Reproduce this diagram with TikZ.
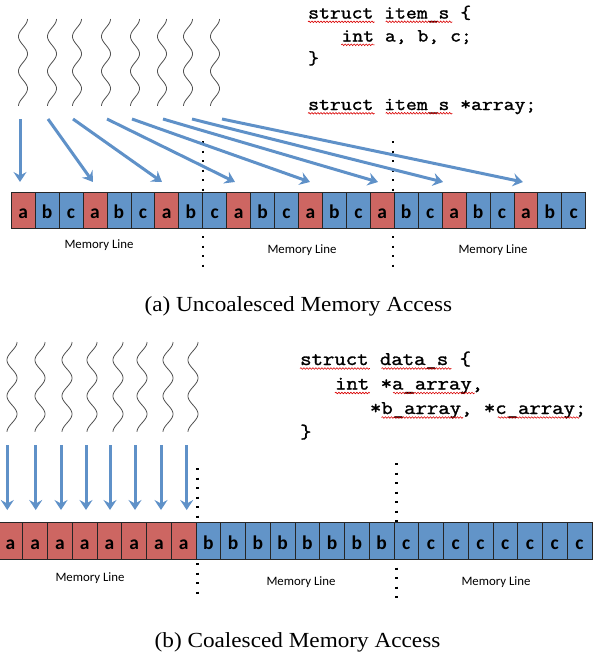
\documentclass[tikz,border=0pt]{standalone}
\usepackage{fontspec}
\setmainfont{Liberation Serif}
\newfontfamily\calfont{Carlito}
\newfontfamily\codefont{Latin Modern Mono}[FakeBold=1.5, FakeStretch=1.14]
\usetikzlibrary{arrows.meta,decorations.pathmorphing}
\definecolor{cellred}{RGB}{205,102,98}
\definecolor{cellblue}{RGB}{98,148,200}
\definecolor{arrowblue}{RGB}{95,145,200}
\definecolor{threadgray}{RGB}{80,80,80}
\tikzset{
  cellA/.style={draw=black!85, line width=0.8pt, inner sep=0pt, minimum width=23.94pt, minimum height=35.6pt,
    text height=16pt, text depth=0pt, font=\calfont\bfseries\fontsize{19.5}{19.5}\selectfont},
  cellB/.style={draw=black!85, line width=0.8pt, inner sep=0pt, minimum width=24.75pt, minimum height=36.3pt,
    text height=17pt, text depth=0pt, font=\calfont\bfseries\fontsize{19.5}{19.5}\selectfont},
  memlabel/.style={anchor=base, inner sep=0pt, font=\calfont\fontsize{12.8}{12.8}\selectfont},
  codeA/.style={anchor=base west, inner sep=0pt, font=\codefont\fontsize{18.5}{18.5}\selectfont},
  codeB/.style={anchor=base west, inner sep=0pt, font=\codefont\fontsize{19.4}{19.4}\selectfont},
  captionstyle/.style={anchor=base, inner sep=0pt, font=\fontsize{21.5}{21.5}\selectfont},
  thread/.style={threadgray, line width=0.8pt},
  memarrow/.style={arrowblue, line width=3pt, -{Stealth[length=10pt,width=13pt,inset=3.5pt]}},
  dotline/.style={black, line width=2.2pt, dash pattern=on 2.2pt off 7.3pt},
  wavy/.style={red!85!black, line width=0.6pt, decorate, decoration={snake, amplitude=0.8pt, segment length=3pt}}
}
\begin{document}
\begin{tikzpicture}[x=1pt,y=-1pt]
\useasboundingbox (0,0) rectangle (595,657);
\clip (0,0) rectangle (595,657);

% ---------------- (a) uncoalesced ----------------
\foreach \cx in {23,52,77,106,135,162,188,215}
  \draw[thread] plot[domain=0:1, samples=90, smooth, variable=\t] ({\cx+4.5*cos(900*\t)}, {19+87*\t});

\draw[dotline] (202.7,141) -- (202.7,269);
\draw[dotline] (392.7,141) -- (392.7,269);

\foreach \i in {0,...,7} {
  \node[cellA, fill=cellred]  (ua\i) at ({11.2+(3*\i+0.5)*23.94}, 210.5) {a};
  \node[cellA, fill=cellblue] (ub\i) at ({11.2+(3*\i+1.5)*23.94}, 210.5) {b};
  \node[cellA, fill=cellblue] (uc\i) at ({11.2+(3*\i+2.5)*23.94}, 210.5) {c};
}

\foreach \n/\tx/\hx in {1/20/20, 2/48/93, 3/73/162, 4/107/235, 5/132/310, 6/163/378, 7/192/443, 8/222/523} {
  \coordinate (ta\n) at (\tx,119);
  \coordinate (ha\n) at (\hx,182);
  \draw[memarrow] (ta\n) -- (ha\n);
}

\node[memlabel] (mla1) at (99,248.5) {Memory Line};
\node[memlabel] (mla2) at (302,253.5) {Memory Line};
\node[memlabel] (mla3) at (493,253.5) {Memory Line};

\node[codeA] (ca1) at (308,18.5) {struct item\_s \{};
\node[codeA] (ca2) at (341.3,41.5) {int a, b, c;};
\node[codeA] (ca3) at (308,64) {\}};
\node[codeA] (ca5) at (308,110) {struct item\_s *array;};
\draw[wavy] (308,21.8) -- (374.6,21.8);
\draw[wavy] (385.7,21.8) -- (452.3,21.8);
\draw[wavy] (341.3,44.8) -- (374.6,44.8);
\draw[wavy] (308,113.3) -- (374.6,113.3);
\draw[wavy] (385.7,113.3) -- (452.3,113.3);

\node[captionstyle] (capa) at (298.3,311) {\scalebox{1.08}[1]{(a) Uncoalesced Memory Access}};

% ---------------- (b) coalesced ----------------
\foreach \cx in {12,40,67,92,118,142,168,193}
  \draw[thread] plot[domain=0:1, samples=90, smooth, variable=\t] ({\cx+5*cos(900*\t)}, {342+90*\t});

\draw[dotline] (197.5,468) -- (197.5,600);
\draw[dotline] (396.5,463) -- (396.5,600);

\foreach \i in {0,...,7} {
  \node[cellB, fill=cellred]  (ca\i) at ({-2.05+(\i+0.5)*24.75}, 540.8) {a};
  \node[cellB, fill=cellblue] (cb\i) at ({-2.05+(\i+8.5)*24.75}, 540.8) {b};
  \node[cellB, fill=cellblue] (cc\i) at ({-2.05+(\i+16.5)*24.75}, 540.8) {c};
}

\foreach \n/\tx in {1/7.3, 2/35.7, 3/61, 4/86, 5/110, 6/135, 7/161, 8/186.7} {
  \coordinate (tb\n) at (\tx,445);
  \coordinate (hb\n) at (\tx,510);
  \draw[memarrow] (tb\n) -- (hb\n);
}

\node[memlabel] (mlb1) at (90,581) {Memory Line};
\node[memlabel] (mlb2) at (301,585) {Memory Line};
\node[memlabel] (mlb3) at (496,585.5) {Memory Line};

\node[codeB] (cbl1) at (300,365) {struct data\_s \{};
\node[codeB] (cbl2) at (334.9,389.5) {int *a\_array,};
\node[codeB] (cbl3) at (369.8,414) {*b\_array, *c\_array;};
\node[codeB] (cbl4) at (300,438) {\}};
\draw[wavy] (300,368.5) -- (369.8,368.5);
\draw[wavy] (381.5,368.5) -- (451.3,368.5);
\draw[wavy] (334.9,393) -- (369.8,393);
\draw[wavy] (393.1,393) -- (474.6,393);
\draw[wavy] (381.5,417.5) -- (463,417.5);
\draw[wavy] (497.8,417.5) -- (579.3,417.5);

\node[captionstyle] (capb) at (297.5,647) {\scalebox{1.08}[1]{(b) Coalesced Memory Access}};
\end{tikzpicture}
\end{document}
